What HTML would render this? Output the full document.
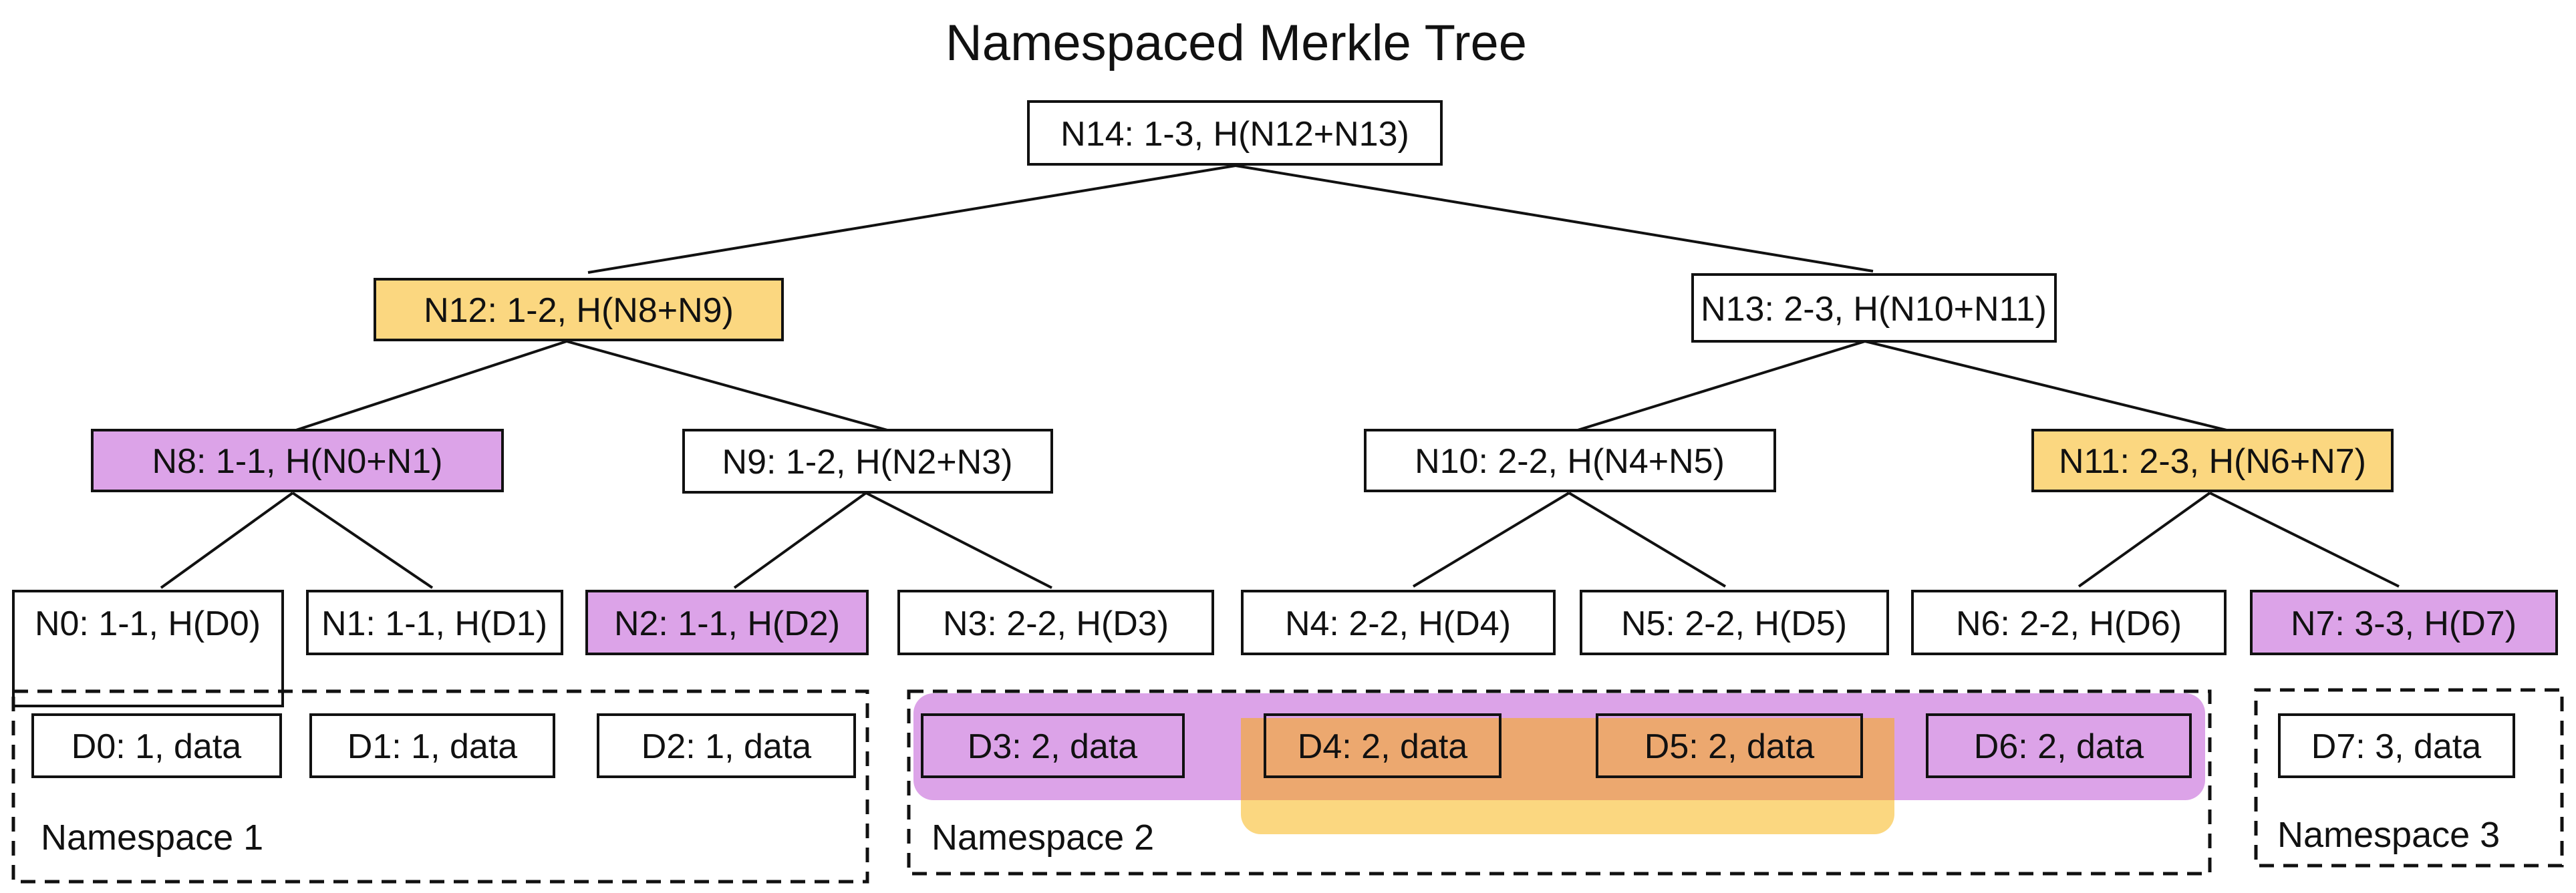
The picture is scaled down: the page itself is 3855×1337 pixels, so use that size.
<!DOCTYPE html>
<html><head><meta charset="utf-8"><style>
html,body{margin:0;padding:0;background:#fff;}
svg{display:block;}
text{font-family:"Liberation Sans",sans-serif;fill:#111;}
</style></head><body>
<svg width="3855" height="1337" viewBox="0 0 3855 1337" xmlns="http://www.w3.org/2000/svg">
<rect width="3855" height="1337" fill="#fff"/>
<rect x="1857" y="1075" width="978" height="174" rx="30" fill="#fbd780"/>
<rect x="1367" y="1038" width="1933" height="160" rx="30" fill="#dca3e8"/>
<rect x="1857" y="1075" width="978" height="123" fill="#eca86f"/>
<text x="1850" y="90" font-size="76" text-anchor="middle">Namespaced Merkle Tree</text>
<g stroke="#111" stroke-width="4" fill="none">
<line x1="1849" y1="248" x2="880" y2="408"/>
<line x1="1849" y1="248" x2="2803" y2="406"/>
<line x1="848" y1="511" x2="443" y2="644"/>
<line x1="848" y1="511" x2="1328" y2="644"/>
<line x1="2791" y1="511" x2="2361" y2="644"/>
<line x1="2791" y1="511" x2="3332" y2="644"/>
<line x1="438" y1="738" x2="241" y2="880"/>
<line x1="438" y1="738" x2="647" y2="880"/>
<line x1="1296" y1="738" x2="1099" y2="880"/>
<line x1="1296" y1="738" x2="1574" y2="880"/>
<line x1="2348" y1="738" x2="2115" y2="878"/>
<line x1="2348" y1="738" x2="2582" y2="878"/>
<line x1="3307" y1="738" x2="3111" y2="878"/>
<line x1="3307" y1="738" x2="3590" y2="878"/>
</g>
<g stroke="#111" stroke-width="4">
<rect x="1539" y="152" width="618" height="94" fill="#fff"/>
<rect x="561" y="418" width="610" height="91" fill="#fbd780"/>
<rect x="2533" y="411" width="543" height="100" fill="#fff"/>
<rect x="138" y="644" width="614" height="91" fill="#dca3e8"/>
<rect x="1023" y="644" width="551" height="93" fill="#fff"/>
<rect x="2043" y="644" width="613" height="91" fill="#fff"/>
<rect x="3042" y="644" width="538" height="91" fill="#fbd780"/>
<rect x="20" y="885" width="403" height="172" fill="none"/>
<rect x="460" y="885" width="381" height="94" fill="#fff"/>
<rect x="878" y="885" width="420" height="94" fill="#dca3e8"/>
<rect x="1345" y="885" width="470" height="94" fill="#fff"/>
<rect x="1859" y="885" width="467" height="94" fill="#fff"/>
<rect x="2366" y="885" width="459" height="94" fill="#fff"/>
<rect x="2862" y="885" width="468" height="94" fill="#fff"/>
<rect x="3369" y="885" width="457" height="94" fill="#dca3e8"/>
<rect x="49" y="1070" width="371" height="93" fill="#fff"/>
<rect x="465" y="1070" width="364" height="93" fill="#fff"/>
<rect x="895" y="1070" width="384" height="93" fill="#fff"/>
<rect x="1380" y="1070" width="391" height="93" fill="none"/>
<rect x="1893" y="1070" width="352" height="93" fill="none"/>
<rect x="2390" y="1070" width="396" height="93" fill="none"/>
<rect x="2884" y="1070" width="394" height="93" fill="none"/>
<rect x="3411" y="1070" width="351" height="93" fill="#fff"/>
</g>
<g stroke="#111" stroke-width="5" fill="none" stroke-dasharray="22 14">
<rect x="20" y="1035" width="1278" height="285"/>
<rect x="1360" y="1035" width="1947" height="273"/>
<rect x="3376" y="1033" width="458" height="263"/>
</g>
<g font-size="52" text-anchor="middle">
<text x="1848" y="218">N14: 1-3, H(N12+N13)</text>
<text x="866" y="482">N12: 1-2, H(N8+N9)</text>
<text x="2804" y="480">N13: 2-3, H(N10+N11)</text>
<text x="445" y="708">N8: 1-1, H(N0+N1)</text>
<text x="1298" y="709">N9: 1-2, H(N2+N3)</text>
<text x="2349" y="708">N10: 2-2, H(N4+N5)</text>
<text x="3311" y="708">N11: 2-3, H(N6+N7)</text>
<text x="221" y="951">N0: 1-1, H(D0)</text>
<text x="650" y="951">N1: 1-1, H(D1)</text>
<text x="1088" y="951">N2: 1-1, H(D2)</text>
<text x="1580" y="951">N3: 2-2, H(D3)</text>
<text x="2092" y="951">N4: 2-2, H(D4)</text>
<text x="2595" y="951">N5: 2-2, H(D5)</text>
<text x="3096" y="951">N6: 2-2, H(D6)</text>
<text x="3597" y="951">N7: 3-3, H(D7)</text>
<text x="234" y="1135">D0: 1, data</text>
<text x="647" y="1135">D1: 1, data</text>
<text x="1087" y="1135">D2: 1, data</text>
<text x="1575" y="1135">D3: 2, data</text>
<text x="2069" y="1135">D4: 2, data</text>
<text x="2588" y="1135">D5: 2, data</text>
<text x="3081" y="1135">D6: 2, data</text>
<text x="3586" y="1135">D7: 3, data</text>
</g>
<g font-size="54">
<text x="61" y="1272">Namespace 1</text>
<text x="1394" y="1272">Namespace 2</text>
<text x="3408" y="1268">Namespace 3</text>
</g>
</svg>
</body></html>
